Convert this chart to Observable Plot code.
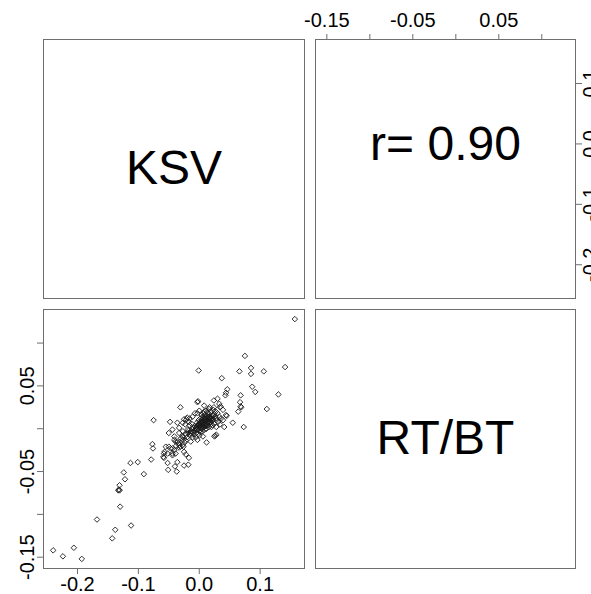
<!DOCTYPE html>
<html><head><meta charset="utf-8">
<script src="https://cdn.jsdelivr.net/npm/d3@7"></script>
<script src="https://cdn.jsdelivr.net/npm/@observablehq/plot@0.6"></script>
<style>
html,body{margin:0;padding:0;background:#fff;overflow:hidden}
#wrap{position:relative;width:591px;height:594px;overflow:hidden;background:#fff}
</style></head><body><div id="wrap"></div>
<script>
// ---- data ----
const varNames = ["KSV", "RT/BT"];
const rLabel = "r= 0.90";
const ksv = [
 0.157,0.075,-0.001,0.066,0.085,0.085,0.106,0.141,0.037,0.087,0.092,0.046,0.044,0.043,0.068,0.130,0.111,0.067,0.068,0.069,
 0.064,0.073,0.055,0.045,0.030,0.024,0.033,0.034,-0.003,-0.002,-0.031,-0.075,-0.048,0.024,0.035,0.017,0.008,0.044,0.039,0.028,
 0.026,0.012,
 -0.077,-0.076,-0.079,-0.055,-0.057,-0.058,-0.059,-0.058,-0.052,-0.051,-0.040,-0.036,-0.037,-0.025,-0.018,-0.022,-0.017,
 -0.113,-0.101,-0.091,-0.124,-0.122,-0.131,-0.132,-0.133,-0.131,-0.130,-0.168,-0.138,-0.112,-0.143,-0.240,-0.224,-0.206,-0.193,
 -0.036,-0.027,-0.025,-0.021,-0.020,-0.016,-0.011,-0.003,-0.007,0.000,0.008,0.016,0.023,0.033,-0.017,-0.023,-0.033,-0.044,-0.033,-0.050,
 -0.041,-0.027,-0.014,-0.009,-0.003,0.006,0.011,0.017,0.022,0.028,0.022,0.028,0.039,0.041,0.025,0.006,-0.003,-0.014,-0.022,-0.027,
 -0.039,-0.050,-0.044,-0.033,-0.025,-0.044,-0.027,-0.019,-0.014,-0.027,-0.036,-0.041,-0.033,-0.047,-0.041,-0.039,-0.044,-0.052,-0.027,-0.026,
 0.000,0.003,0.005,0.008,0.010,0.012,0.014,0.015,0.018,0.020,-0.002,0.001,0.004,0.007,0.009,0.011,0.013,0.016,0.019,0.021,
 -0.005,-0.007,-0.004,-0.001,0.002,0.006,0.009,-0.010,-0.008,-0.005,-0.002,0.002,0.005,0.008,0.012,0.016,0.018,0.023,0.024,0.014,
 0.010,-0.012,-0.015,-0.018,-0.011,-0.006,0.000,0.003,0.006,0.013,0.017,0.020,-0.020,-0.023,-0.016,-0.013,0.026,0.030,0.027,0.019,
 0.007,0.004,0.011,0.031,0.034,0.036,
 0.001,0.004,0.007,0.010,0.013,0.016,0.019,0.022,-0.001,0.002,0.005,0.008,0.011,0.014,0.017,-0.004,-0.001,0.003,0.006,0.009,
 0.012,0.015,-0.008,-0.006,-0.003,0.000,0.025,0.028,-0.013,-0.017,-0.021,-0.030,-0.034,-0.038,-0.031,-0.024
];
const rtbt = [
 0.128,0.085,0.068,0.067,0.071,0.064,0.067,0.072,0.059,0.049,0.043,0.046,0.042,0.039,0.039,0.040,0.023,0.031,0.026,0.025,
 0.020,0.002,0.007,0.015,0.035,0.033,0.029,0.025,0.031,0.032,0.025,0.010,0.008,0.025,0.026,0.025,0.027,0.016,0.022,-0.007,
 -0.008,-0.016,
 -0.018,-0.023,-0.036,-0.021,-0.027,-0.029,-0.033,-0.034,-0.040,-0.048,-0.044,-0.039,-0.050,-0.043,-0.042,-0.030,-0.034,
 -0.040,-0.039,-0.053,-0.051,-0.059,-0.066,-0.071,-0.072,-0.072,-0.091,-0.106,-0.118,-0.113,-0.128,-0.142,-0.149,-0.139,-0.152,
 0.007,0.007,0.011,0.011,0.013,0.012,0.014,0.018,0.018,0.021,0.020,0.023,0.022,0.014,0.008,0.005,0.001,-0.001,-0.005,-0.005,
 -0.009,-0.009,-0.003,0.001,0.004,0.008,0.012,0.014,0.016,0.010,0.004,0.002,0.010,0.002,-0.009,-0.009,-0.013,-0.015,-0.014,-0.019,
 -0.015,-0.021,-0.023,-0.022,-0.027,-0.029,-0.003,-0.001,-0.005,-0.013,-0.015,-0.013,-0.019,-0.023,-0.025,-0.029,-0.031,-0.029,-0.010,-0.021,
 0.005,0.008,0.003,0.010,0.006,0.009,0.004,0.011,0.008,0.012,0.001,-0.002,0.000,0.002,-0.001,0.003,0.015,0.017,0.005,0.009,
 -0.001,0.003,0.007,0.010,0.012,0.014,0.016,-0.004,-0.007,-0.005,-0.006,-0.004,-0.003,0.005,0.000,0.002,0.013,0.011,0.006,0.019,
 0.013,0.000,-0.008,-0.005,-0.010,-0.010,-0.008,0.004,0.006,0.007,0.010,0.002,-0.010,-0.006,0.004,0.006,0.014,0.018,0.020,0.020,
 0.018,0.016,0.021,0.008,0.005,0.012,
 0.007,0.010,0.012,0.006,0.013,0.014,0.011,0.015,0.004,0.006,0.008,0.002,0.010,0.007,0.013,0.002,0.005,0.001,0.004,0.011,
 0.005,0.008,-0.002,0.001,-0.001,0.002,0.017,0.012,-0.003,-0.002,-0.007,-0.011,-0.017,-0.020,-0.021,-0.016
];
const ksvTicks = [-0.2, -0.1, 0.0, 0.1];
const rtbtTicks = [-0.15, -0.10, -0.05, 0.00, 0.05, 0.10];
const rtbtLabeled = [-0.15, -0.05, 0.05];

// ---- layout ----
const M = 45;
const FONT = "'Liberation Sans', Arial, sans-serif";
const frameColor = "#6e6e6e";
const tickColor = "#6e6e6e";
const wrap = document.getElementById("wrap");

function pad(ext) { const r = ext[1] - ext[0]; return [ext[0] - 0.04 * r, ext[1] + 0.04 * r]; }
const ksvDom = pad(d3.extent(ksv));
const rtbtDom = pad(d3.extent(rtbt));

const fmt1 = d => d.toFixed(1);
const fmtR = d => rtbtLabeled.some(v => Math.abs(v - d) < 1e-9) ? d.toFixed(2) : "";

function panel(left, top, W, H, opts) {
  const svg = Plot.plot({
    width: W + 2 * M, height: H + 2 * M, margin: M,
    style: {position: "absolute", left: (left - M) + "px", top: (top - M) + "px",
            fontFamily: FONT, fontSize: "20px", overflow: "visible", background: "transparent", maxWidth: "none"},
    ...opts
  });
  wrap.append(svg);
}

// top-left: KSV label
panel(43, 39, 261, 259, {
  x: {domain: [0, 1], axis: null}, y: {domain: [0, 1], axis: null},
  marks: [
    Plot.frame({stroke: frameColor}),
    Plot.text([varNames[0]], {frameAnchor: "middle", text: d => d, fontSize: 48, fill: "black"})
  ]
});

// top-right: correlation, top axis (RT/BT) and right axis (KSV)
panel(315, 39, 260, 259, {
  x: {domain: rtbtDom}, y: {domain: ksvDom},
  marks: [
    Plot.frame({stroke: frameColor}),
    Plot.axisX({anchor: "top", ticks: rtbtTicks, tickFormat: fmtR, tickSize: 6, tickPadding: 7,
                stroke: tickColor, fill: "black", fontSize: 20, label: null}),
    Plot.axisY({anchor: "right", ticks: ksvTicks, tickFormat: fmt1, tickSize: 6, tickPadding: 1,
                tickRotate: -90, lineAnchor: "top", textAnchor: "middle",
                stroke: tickColor, fill: "black", fontSize: 20, label: null}),
    Plot.text([rLabel], {frameAnchor: "middle", text: d => d, fontSize: 48, dy: -24, fill: "black"})
  ]
});

// bottom-left: scatter
panel(43, 309, 261, 259, {
  x: {domain: ksvDom}, y: {domain: rtbtDom},
  marks: [
    Plot.frame({stroke: frameColor}),
    Plot.axisX({anchor: "bottom", ticks: ksvTicks, tickFormat: fmt1, tickSize: 6, tickPadding: 2,
                stroke: tickColor, fill: "black", fontSize: 20, label: null}),
    Plot.axisY({anchor: "left", ticks: rtbtTicks, tickFormat: fmtR, tickSize: 6, tickPadding: 4,
                tickRotate: -90, lineAnchor: "bottom", textAnchor: "middle",
                stroke: tickColor, fill: "black", fontSize: 20, label: null}),
    Plot.dot(ksv, {x: ksv, y: rtbt, symbol: "diamond2", r: 2.5, stroke: "#1a1a1a", strokeWidth: 0.9, fill: "none"})
  ]
});

// bottom-right: RT/BT label
panel(315, 309, 260, 259, {
  x: {domain: [0, 1], axis: null}, y: {domain: [0, 1], axis: null},
  marks: [
    Plot.frame({stroke: frameColor}),
    Plot.text([varNames[1]], {frameAnchor: "middle", text: d => d, fontSize: 48, fill: "black"})
  ]
});
</script></body></html>
